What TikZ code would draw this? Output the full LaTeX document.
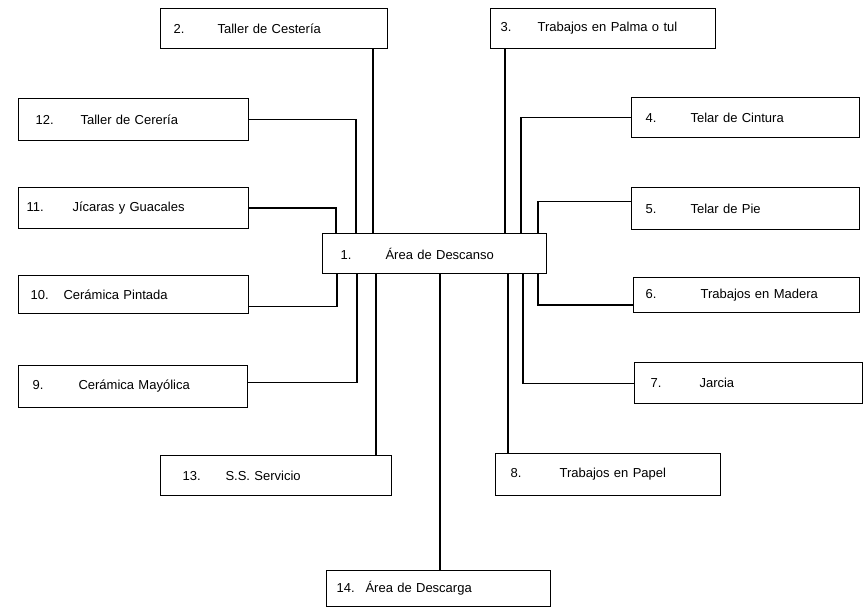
\documentclass[tikz,border=0pt]{standalone}
\usepackage{fontspec}
\setmainfont{Liberation Sans}
\usetikzlibrary{positioning}

\newcommand{\boxfont}{\fontsize{13}{15}\selectfont}
\newcommand{\entry}[4]{\hspace*{#1pt}\makebox[#2pt][l]{#3}#4}

\begin{document}
\begin{tikzpicture}[
    x=1pt, y=-1pt,
    box/.style={rectangle, draw, line width=1.1pt, anchor=north west, inner xsep=0pt, text width=#1, minimum height=40pt, align=left, font=\boxfont},
    box/.default=228pt,
    link/.style={line width=1.1pt},
    mainlink/.style={line width=2.4pt}
]
\useasboundingbox (0,0) rectangle (864,609);

% Centre
\node[box=224pt] (descanso) at (322,233) {\entry{18}{45}{1.}{Área de Descanso}};

% Top row
\node[box=227pt] (cesteria) at (160,8) {\entry{13}{44}{2.}{Taller de Cestería}};
\node[box=225pt] (palma) at (490,8) {\entry{10}{37}{3.}{Trabajos en Palma o tul}};

% Left column
\node[box=230pt, minimum height=42pt] (cereria) at (18,98) {\entry{17}{45}{12.}{Taller de Cerería}};
\node[box=230pt, minimum height=41pt] (jicaras) at (18,187) {\entry{8}{46}{11.}{Jícaras y Guacales}};
\node[box=230pt, minimum height=38pt] (pintada) at (18,275) {\entry{12}{33}{10.}{Cerámica Pintada}};
\node[box=229pt, minimum height=42pt] (mayolica) at (18,365) {\entry{14}{46}{9.}{Cerámica Mayólica}};

% Right column
\node[box] (cintura) at (631,97) {\entry{14}{45}{4.}{Telar de Cintura}};
\node[box, minimum height=42pt] (pie) at (631,187) {\entry{14}{45}{5.}{Telar de Pie}};
\node[box=226pt, minimum height=35pt] (madera) at (633,277) {\entry{12}{55}{6.}{Trabajos en Madera}};
\node[box, minimum height=41pt] (jarcia) at (634,362) {\entry{16}{49}{7.}{Jarcia}};

% Bottom row
\node[box=231pt] (servicio) at (160,455) {\entry{22}{43}{13.}{S.S. Servicio}};
\node[box=225pt, minimum height=42pt] (papel) at (495,453) {\entry{15}{49}{8.}{Trabajos en Papel}};
\node[box=224pt, minimum height=36pt] (descarga) at (326,570) {\entry{10}{29}{14.}{Área de Descarga}};

% Attachment points on the centre box
\foreach \name/\dx in {jicaras/14, cereria/34, cesteria/51, palma/183, cintura/199, pie/216}
    \coordinate (up\name) at ([xshift=\dx pt]descanso.north west);
\foreach \name/\dx in {pintada/15, mayolica/35, servicio/54, descarga/118, papel/186, jarcia/201, madera/216}
    \coordinate (dn\name) at ([xshift=\dx pt]descanso.south west);

% Connectors
\draw[link] (cereria.east) -| (upcereria);
\draw[link] (jicaras.east) -| (upjicaras);
\draw[link] (cesteria.south -| upcesteria) -- (upcesteria);
\draw[link] (palma.south -| uppalma) -- (uppalma);
\draw[link] (cintura.west) -| (upcintura);
\draw[link] ([yshift=7pt]pie.west) -| (uppie);
\draw[link] ([yshift=-12pt]pintada.east) -| (dnpintada);
\draw[link] ([yshift=4pt]mayolica.east) -| (dnmayolica);
\draw[link] (servicio.north -| dnservicio) -- (dnservicio);
\draw[mainlink] (descarga.north -| dndescarga) -- (dndescarga);
\draw[link] (papel.north -| dnpapel) -- (dnpapel);
\draw[link] (jarcia.west) -| (dnjarcia);
\draw[link] ([yshift=-10pt]madera.west) -| (dnmadera);

\end{tikzpicture}
\end{document}
